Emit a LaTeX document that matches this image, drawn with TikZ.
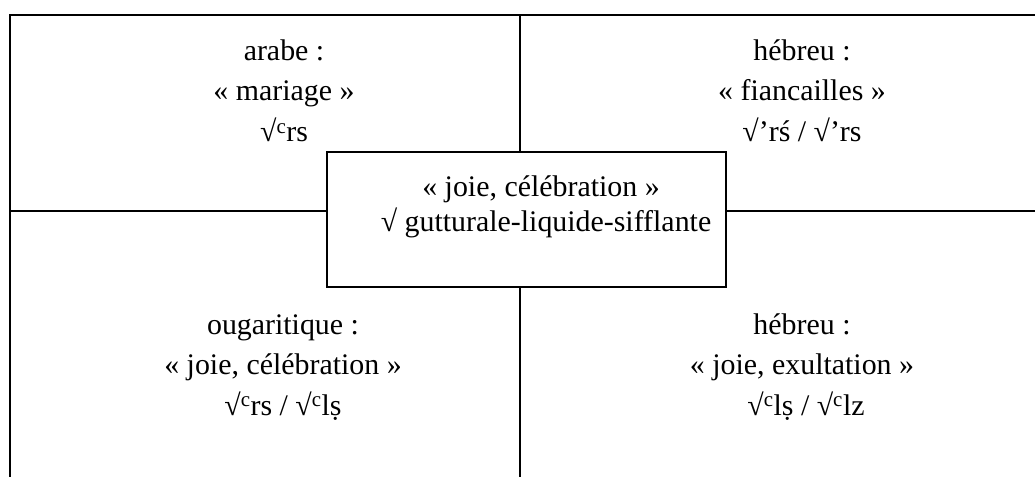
\documentclass[tikz,border=0pt]{standalone}
\usepackage{fontspec}
\setmainfont{Liberation Serif}
\begin{document}
\begin{tikzpicture}[x=1bp,y=-1bp,
  frame/.style={line width=2bp, line cap=rect},
  txt/.style={anchor=base, inner sep=0pt, font=\fontsize{30}{36}\selectfont}]
\useasboundingbox (0,0) rectangle (1035,477);
\coordinate (tl) at (10,15);
\coordinate (tr) at (1035,15);
\coordinate (bl) at (10,477);
\coordinate (topmid) at (520,15);
\coordinate (botmid) at (520,477);
\coordinate (leftmid) at (10,211);
\coordinate (rightmid) at (1035,211);
\node[draw, line width=2bp, minimum width=399bp, minimum height=135bp, inner sep=0pt] (box) at (526.5,219.5) {};
\draw[frame] (bl) -- (tl) -- (tr);
\draw[frame] (topmid) -- (topmid |- box.north);
\draw[frame] (botmid |- box.south) -- (botmid);
\draw[frame] (leftmid) -- (leftmid -| box.west);
\draw[frame] (box.east |- rightmid) -- (rightmid);
% top left
\node[txt] (a1) at (284,61) {arabe :};
\node[txt] (a2) at (284,101) {« mariage »};
\node[txt] (a3) at (284,142) {√\textsuperscript{c}rs};
% top right
\node[txt] (b1) at (802,61) {hébreu :};
\node[txt] (b2) at (802,101) {« fiancailles »};
\node[txt] (b3) at (802,142) {√’rś / √’rs};
% centre
\node[txt] (c1) at (541,197) {« joie, célébration »};
\node[txt] (c2) at (546,232) {√ gutturale-liquide-sifflante};
% bottom left
\node[txt] (d1) at (283,335) {ougaritique :};
\node[txt] (d2) at (283,375) {« joie, célébration »};
\node[txt] (d3) at (283,415) {√\textsuperscript{c}rs / √\textsuperscript{c}lṣ};
% bottom right
\node[txt] (e1) at (802,335) {hébreu :};
\node[txt] (e2) at (802,375) {« joie, exultation »};
\node[txt] (e3) at (806,415) {√\textsuperscript{c}lṣ / √\textsuperscript{c}lz};
\end{tikzpicture}
\end{document}
